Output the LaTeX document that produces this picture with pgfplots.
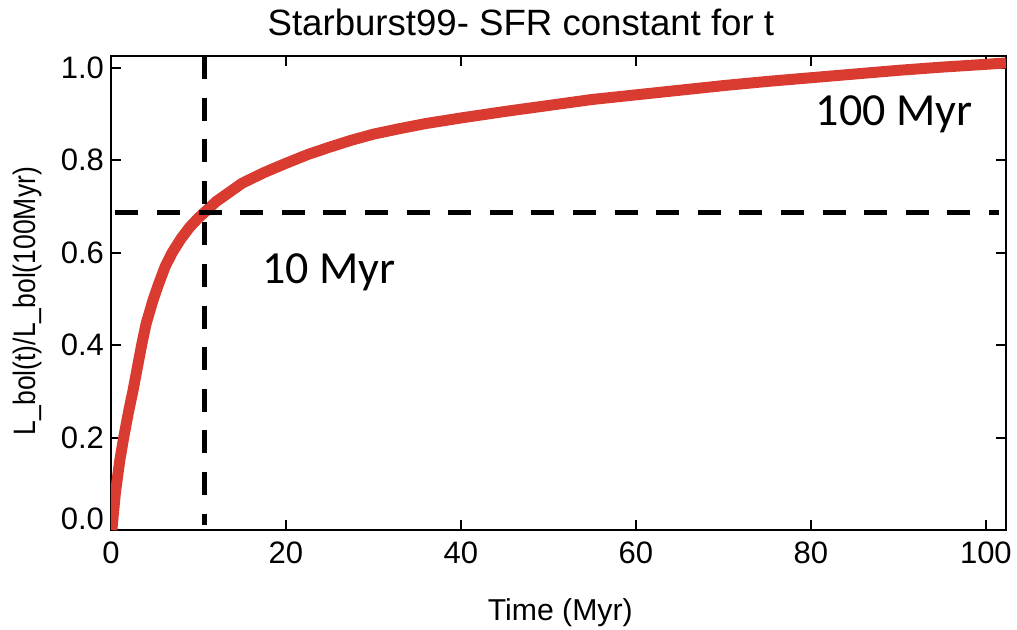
\documentclass[border=0pt]{standalone}
\usepackage{fontspec}
\setmainfont{Liberation Sans}
\newfontfamily\calib{Carlito}
\usepackage{pgfplots}
\pgfplotsset{compat=1.18}
\definecolor{curvered}{RGB}{218,59,49}
\begin{document}
\begin{tikzpicture}
\useasboundingbox (-55.5pt,-49.5pt) rectangle (453pt,265pt);
\begin{axis}[
  scale only axis, width=447.5pt, height=237pt,
  xmin=0, xmax=102.3, ymin=0, ymax=1.025,
  clip mode=individual,
  axis line style={line width=1.3pt},
  every tick/.style={line width=1pt, black},
  major tick length=5pt, tick align=inside,
  xtick={0,20,40,60,80,100}, xticklabels={0,20,40,60,80,100},
  ytick={0,0.2,0.4,0.6,0.8,1.0}, yticklabels={{},0.2,0.4,0.6,0.8,1.0},
  /pgf/number format/assume math mode=true,
  tick label style={font=\fontsize{15.5}{18}\selectfont},
  xticklabel style={yshift=-2.3pt},
  every axis title shift=0pt,
  title={Starburst99- SFR constant for t},
  title style={font=\fontsize{18.3}{22}\selectfont, at={(rel axis cs:0.458,1)}, anchor=base, yshift=10.5pt, inner sep=0pt},
  xlabel={Time (Myr)},
  xlabel style={font=\fontsize{15.1}{18}\selectfont, at={(axis description cs:0.502,0)}, anchor=base, yshift=-45pt, inner sep=0pt},
  ylabel={\scalebox{0.855}[1]{L\_bol(t)/L\_bol(100Myr)}},
  ylabel style={font=\fontsize{15.5}{18}\selectfont, at={(axis description cs:-0.0838,0.483)}, anchor=base, inner sep=0pt},
]
\addplot[curvered, line width=5.5pt, line join=round] coordinates {
(0.1,0.0) (0.5,0.08) (1.0,0.15) (1.5,0.205) (2.0,0.255) (2.5,0.30) (3.0,0.35)
(3.5,0.40) (4.0,0.445) (4.8,0.497) (5.5,0.535) (6.2,0.57) (7.0,0.600)
(8.0,0.630) (9.0,0.655) (10.0,0.675) (10.7,0.687) (12.0,0.71) (13.5,0.73)
(15.0,0.75) (17.5,0.773) (20.0,0.793) (22.5,0.812) (25.0,0.828) (27.5,0.843)
(30.0,0.856) (33,0.868) (36,0.879) (40,0.891) (45,0.905) (50,0.918)
(55,0.931) (60,0.941) (65,0.951) (70,0.961) (75,0.970) (80,0.978)
(85,0.986) (90,0.994) (95,1.001) (100,1.007) (102.3,1.010)
};
\addplot[black, line width=2.7pt, dash pattern=on 11.5pt off 9.3pt] coordinates {(10.7,1.025) (10.7,0.01)};
\addplot[black, line width=2.7pt, dash pattern=on 11.5pt off 9.3pt] coordinates {(0.5,0.687) (101.5,0.687)};
\node[anchor=east, font=\fontsize{15.5}{18}\selectfont, yshift=5.5pt] at (axis cs:0,0) {0.0};
\node[anchor=base west, inner sep=0pt, font=\calib\fontsize{23}{27}\selectfont] at (axis cs:80.5,0.875) {100 Myr};
\node[anchor=base west, inner sep=0pt, font=\calib\fontsize{23}{27}\selectfont] at (axis cs:17.26,0.533) {10 Myr};
\end{axis}
\end{tikzpicture}
\end{document}
